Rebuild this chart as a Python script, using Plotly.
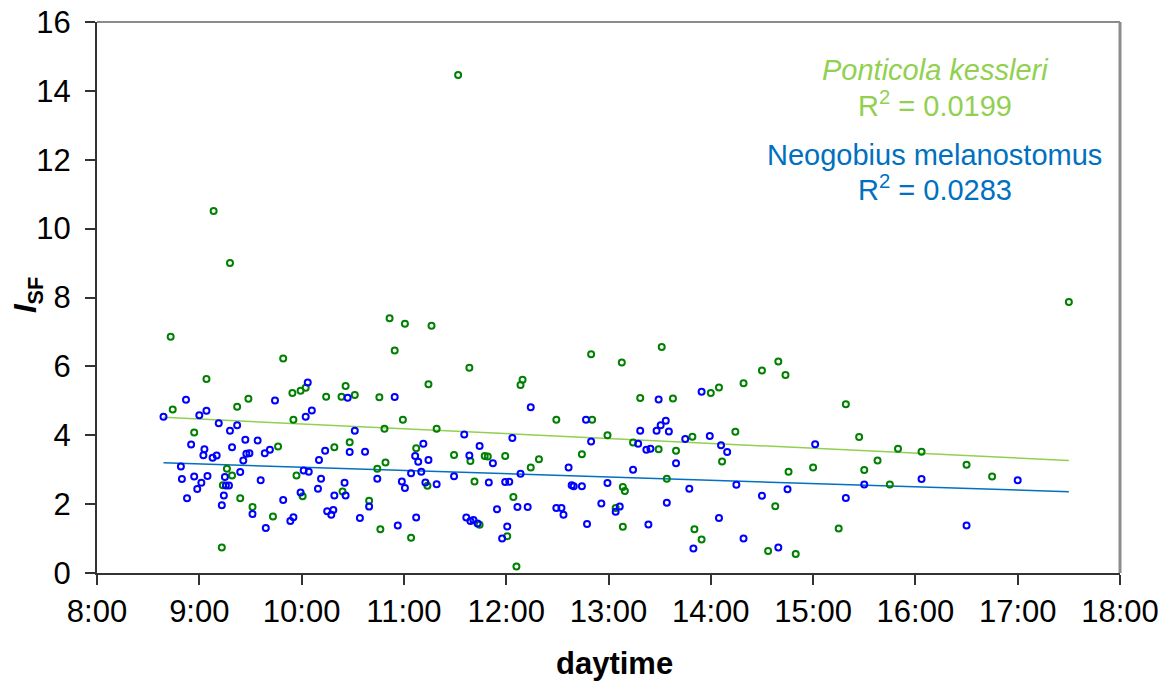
import plotly.graph_objects as go

# Ponticola kessleri (green) — daytime in decimal hours, ISF values
pk_time = [8.72, 9.07, 8.74, 8.95, 9.37, 9.48, 9.82, 9.91, 9.99, 10.04, 9.92, 10.24, 10.39, 10.43,
           9.27, 9.32, 9.23, 9.40, 9.52, 9.72, 9.22, 9.77, 9.95, 10.01, 10.32, 10.40, 10.47,
           9.14, 9.30, 11.53,
           10.52, 10.86, 11.01, 11.27, 10.91, 11.64, 11.24, 12.16, 12.14, 12.83, 10.76, 10.99,
           11.32, 10.81, 11.12, 10.82, 10.74, 11.49, 11.65, 11.79, 11.82, 11.99, 12.32, 12.24,
           12.74, 12.84, 12.49, 11.23, 11.69, 10.66, 10.77, 11.07, 11.74, 12.01, 12.07, 12.10,
           13.13, 13.52, 13.31, 13.63, 14.00, 14.08, 14.32, 14.50, 14.66, 14.73, 15.32, 12.99,
           13.24, 13.49, 13.66, 13.82, 14.24, 14.11, 14.76, 15.00, 13.57, 13.14, 13.16, 13.07,
           13.14, 14.63, 13.84, 13.91, 14.56, 14.83, 15.25,
           17.50, 15.45, 15.83, 16.06, 15.63, 15.50, 15.75, 16.50, 16.75]
pk_isf = [6.86, 5.63, 4.75, 4.08, 4.83, 5.06, 6.23, 5.23, 5.29, 5.38, 4.45, 5.12, 5.12, 5.43,
          3.03, 2.83, 2.55, 2.17, 1.92, 1.64, 0.74, 3.67, 2.83, 2.23, 3.65, 2.37, 3.80,
          10.51, 9.00, 14.46,
          5.17, 7.40, 7.24, 7.18, 6.46, 5.96, 5.48, 5.61, 5.46, 6.35, 5.10, 4.45,
          4.19, 4.19, 3.62, 3.21, 3.03, 3.43, 3.25, 3.40, 3.38, 3.40, 3.30, 3.06,
          3.45, 4.45, 4.45, 2.53, 2.66, 2.10, 1.27, 1.02, 1.40, 1.07, 2.21, 0.19,
          6.11, 6.56, 5.08, 5.07, 5.23, 5.39, 5.51, 5.88, 6.14, 5.75, 4.90, 4.00,
          3.79, 3.59, 3.55, 3.96, 4.10, 3.24, 2.94, 3.06, 2.74, 2.50, 2.38, 1.89,
          1.34, 1.94, 1.27, 0.97, 0.64, 0.55, 1.29,
          7.87, 3.95, 3.61, 3.52, 3.27, 2.99, 2.57, 3.14, 2.80]

# Neogobius melanostomus (blue)
nm_time = [8.65, 8.87, 9.00, 9.07, 8.92, 9.05, 9.04, 8.82, 8.83, 8.95, 9.02, 9.08, 8.98, 8.88,
           9.19, 9.30, 9.37, 9.13, 9.17, 9.32, 9.45, 9.57, 9.46, 9.49, 9.43, 9.64, 9.69, 9.25,
           9.26, 9.29, 9.40, 9.24, 9.22, 9.52, 9.60, 9.65, 9.82, 9.74, 9.89, 9.92, 10.06, 10.04,
           10.10, 10.02, 10.07, 9.99, 10.17, 10.19, 10.16, 10.23, 10.32, 10.25, 10.29, 10.31,
           10.42, 10.43, 10.45, 10.47,
           10.91, 10.52, 10.62, 12.24, 12.78, 12.83, 12.06, 11.59, 11.74, 11.19, 11.11, 11.14,
           11.24, 11.64, 11.87, 11.07, 11.17, 11.49, 12.14, 12.61, 10.74, 10.98, 11.01, 11.21,
           11.32, 11.83, 11.99, 12.03, 12.64, 12.66, 12.74, 10.66, 10.57, 10.94, 11.12, 11.61,
           11.65, 11.68, 11.72, 11.91, 12.11, 12.21, 12.49, 12.54, 12.56, 12.01, 11.96, 12.79,
           12.93,
           13.49, 13.91, 13.31, 13.47, 13.51, 13.56, 13.59, 13.29, 13.37, 13.41, 13.75, 13.99,
           14.10, 14.16, 15.02, 13.66, 13.24, 12.99, 13.79, 14.25, 14.50, 14.75, 15.32, 13.07,
           13.11, 13.57, 13.39, 14.08, 14.32, 13.83, 14.66,
           15.50, 16.06, 17.00, 16.50]
nm_isf = [4.54, 5.03, 4.58, 4.71, 3.73, 3.59, 3.42, 3.09, 2.73, 2.80, 2.62, 2.82, 2.44, 2.17,
          4.35, 4.13, 4.29, 3.35, 3.41, 3.65, 3.87, 3.85, 3.46, 3.48, 3.27, 3.48, 3.58, 2.79,
          2.54, 2.54, 2.93, 2.25, 1.97, 1.71, 2.69, 1.31, 2.12, 5.01, 1.51, 1.62, 5.53, 4.54,
          4.72, 2.98, 2.94, 2.34, 3.28, 2.74, 2.45, 3.55, 2.25, 1.79, 1.69, 1.83,
          2.62, 2.25, 5.09, 3.51,
          5.11, 4.13, 3.52, 4.81, 4.45, 3.82, 3.92, 4.02, 3.69, 3.75, 3.40, 3.23,
          3.28, 3.41, 3.19, 2.90, 2.94, 2.81, 2.88, 3.06, 2.74, 2.66, 2.47, 2.63,
          2.58, 2.63, 2.64, 2.65, 2.55, 2.52, 2.52, 1.93, 1.60, 1.38, 1.61, 1.61,
          1.51, 1.54, 1.44, 1.85, 1.92, 1.92, 1.89, 1.89, 1.69, 1.35, 1.00, 1.42,
          2.02,
          5.04, 5.26, 4.13, 4.13, 4.29, 4.42, 4.11, 3.75, 3.58, 3.61, 3.89, 3.98,
          3.71, 3.51, 3.74, 3.19, 3.00, 2.61, 2.45, 2.56, 2.24, 2.43, 2.18, 1.78,
          1.93, 2.04, 1.41, 1.60, 1.00, 0.71, 0.74,
          2.57, 2.73, 2.69, 1.38]

# Linear trend lines (endpoints)
pk_trend_time = [8.65, 17.50]
pk_trend_isf = [4.52, 3.27]
nm_trend_time = [8.65, 17.50]
nm_trend_isf = [3.20, 2.36]

tick_hours = [8, 9, 10, 11, 12, 13, 14, 15, 16, 17, 18]
tick_labels = ["8:00", "9:00", "10:00", "11:00", "12:00", "13:00", "14:00",
               "15:00", "16:00", "17:00", "18:00"]
y_ticks = [0, 2, 4, 6, 8, 10, 12, 14, 16]

FONT = "Liberation Sans, Arial, sans-serif"
GREEN_PT = "#008000"
BLUE_PT = "#0000FF"
GREEN_LN = "#92D050"
BLUE_LN = "#0070C0"

fig = go.Figure()
fig.add_trace(go.Scatter(x=pk_trend_time, y=pk_trend_isf, mode="lines",
                         line=dict(color=GREEN_LN, width=1.5), hoverinfo="skip"))
fig.add_trace(go.Scatter(x=nm_trend_time, y=nm_trend_isf, mode="lines",
                         line=dict(color=BLUE_LN, width=1.5), hoverinfo="skip"))
fig.add_trace(go.Scatter(x=pk_time, y=pk_isf, mode="markers", name="Ponticola kessleri",
                         marker=dict(symbol="circle-open", size=6, color=GREEN_PT,
                                     line=dict(width=2, color=GREEN_PT))))
fig.add_trace(go.Scatter(x=nm_time, y=nm_isf, mode="markers", name="Neogobius melanostomus",
                         marker=dict(symbol="circle-open", size=6, color=BLUE_PT,
                                     line=dict(width=2, color=BLUE_PT))))

L, R, T, B = 97, 48, 22, 110
W, H = 1168, 683
pw, ph = W - L - R, H - T - B

def px(xp):
    return (xp - L) / pw

def py(yp):
    return (H - B - yp) / ph

annos = [
    dict(text="<i>Ponticola kessleri</i>", x=px(935), y=py(70), color=GREEN_LN),
    dict(text="R<sup>2</sup> = 0.0199", x=px(935), y=py(104), color=GREEN_LN),
    dict(text="Neogobius melanostomus", x=px(934), y=py(155), color=BLUE_LN),
    dict(text="R<sup>2</sup> = 0.0283", x=px(935), y=py(188), color=BLUE_LN),
]
annotations = []
for a in annos:
    annotations.append(dict(text=a["text"], x=a["x"], y=a["y"], xref="paper", yref="paper",
                            xanchor="center", yanchor="middle", showarrow=False,
                            font=dict(family=FONT, size=29, color=a["color"])))
annotations.append(dict(text="<b>daytime</b>", x=px(614), y=py(663), xref="paper", yref="paper",
                        xanchor="center", yanchor="middle", showarrow=False,
                        font=dict(family=FONT, size=31, color="black")))
annotations.append(dict(text="<b><i>I</i><sub>SF</sub></b>", x=px(28), y=py(295),
                        xref="paper", yref="paper", xanchor="center", yanchor="middle",
                        textangle=-90, showarrow=False,
                        font=dict(family=FONT, size=31, color="black")))

fig.update_layout(
    width=W, height=H,
    margin=dict(l=L, r=R, t=T, b=B, pad=0, autoexpand=False),
    paper_bgcolor="white", plot_bgcolor="white",
    showlegend=False,
    font=dict(family=FONT, size=31, color="black"),
    annotations=annotations,
    shapes=[
        dict(type="line", xref="paper", yref="paper", x0=0, x1=1, y0=1, y1=1,
             line=dict(color="#8c8c8c", width=2)),
        dict(type="line", xref="paper", yref="paper", x0=1, x1=1, y0=0, y1=1,
             line=dict(color="#8c8c8c", width=3)),
    ],
    xaxis=dict(range=[8, 18], tickvals=tick_hours, ticktext=tick_labels, automargin=False,
               showgrid=False, zeroline=False, showline=True, linecolor="#333333",
               linewidth=2, ticks="outside", ticklen=10, tickwidth=1.5, tickcolor="#333333",
               tickfont=dict(family=FONT, size=31, color="black")),
    yaxis=dict(range=[0, 16], tickvals=y_ticks, automargin=False, ticklabelstandoff=8,
               showgrid=False, zeroline=False, showline=True, linecolor="#333333",
               linewidth=2, ticks="outside", ticklen=10, tickwidth=1.5, tickcolor="#333333",
               tickfont=dict(family=FONT, size=31, color="black")),
)

fig.write_html("out.html")
